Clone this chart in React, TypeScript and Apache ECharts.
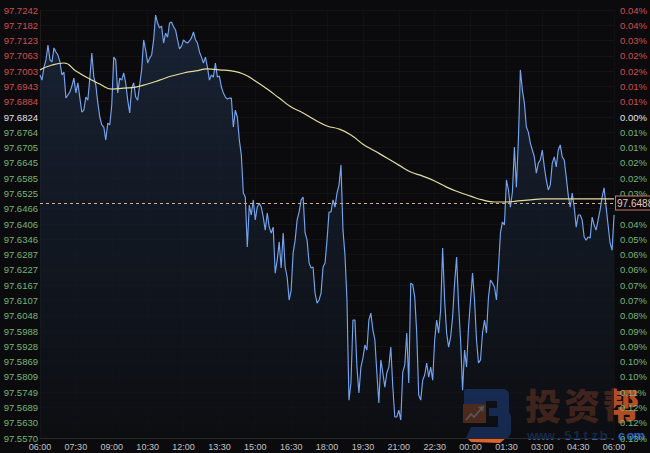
import React, { useEffect, useRef } from "react";
import * as echarts from "echarts";

// ---- data ----
const BASE_PRICE = 97.557;
const TOP_PRICE = 97.7242;
const TICK_COUNT = 28;
const TICK_STEP = (TOP_PRICE - BASE_PRICE) / TICK_COUNT;
const REF_LINE_PRICE = 97.6488;
const PRICE_STEP_MIN = 5;
const AVG_STEP_MIN = 30;

const xTickLabels = [
  "06:00", "07:30", "09:00", "10:30", "12:00", "13:30", "15:00", "16:30", "18:00",
  "19:30", "21:00", "22:30", "00:00", "01:30", "03:00", "04:30", "06:00",
];

// top to bottom
const leftTickLabels = [
  "97.7242", "97.7182", "97.7123", "97.7063", "97.7003", "97.6943", "97.6884", "97.6824",
  "97.6764", "97.6705", "97.6645", "97.6585", "97.6525", "97.6466", "97.6406", "97.6346",
  "97.6287", "97.6227", "97.6167", "97.6107", "97.6048", "97.5988", "97.5928", "97.5869",
  "97.5809", "97.5749", "97.5689", "97.5630", "97.5570",
];

const rightTickLabels = [
  "0.04%", "0.04%", "0.03%", "0.02%", "0.02%", "0.01%", "0.01%", "0.00%",
  "0.01%", "0.01%", "0.02%", "0.02%", "0.03%", "0.04%", "0.04%", "0.05%",
  "0.06%", "0.06%", "0.07%", "0.07%", "0.08%", "0.09%", "0.09%", "0.10%",
  "0.10%", "0.11%", "0.12%", "0.12%", "0.13%",
];

// price every 5 minutes from 06:00
const prices = [
  97.6988, 97.6968, 97.7019, 97.7047, 97.7105, 97.7047, 97.7039, 97.7094, 97.7078, 97.7066,
  97.7039, 97.6988, 97.7000, 97.6898, 97.6910, 97.6922, 97.6945, 97.6976, 97.6918, 97.6957,
  97.6898, 97.6843, 97.6851, 97.6902, 97.6890, 97.6976, 97.7074, 97.6980, 97.6949, 97.6879,
  97.6824, 97.6793, 97.6785, 97.6734, 97.6800, 97.6793, 97.6871, 97.7058, 97.7047, 97.6918,
  97.6976, 97.6968, 97.6996, 97.6957, 97.6890, 97.6840, 97.6937, 97.6957, 97.6902, 97.6890,
  97.6949, 97.7008, 97.7125, 97.7086, 97.7035, 97.7054, 97.7066, 97.7125, 97.7222, 97.7191,
  97.7172, 97.7179, 97.7113, 97.7152, 97.7136, 97.7191, 97.7195, 97.7176, 97.7164, 97.7125,
  97.7090, 97.7101, 97.7125, 97.7117, 97.7113, 97.7121, 97.7133, 97.7156, 97.7125, 97.7113,
  97.7078, 97.7058, 97.7035, 97.7058, 97.7019, 97.6968, 97.6988, 97.6980, 97.7035, 97.6980,
  97.6984, 97.6941, 97.6918, 97.6902, 97.6894, 97.6898, 97.6898, 97.6785, 97.6851, 97.6824,
  97.6734, 97.6675, 97.6527, 97.6511, 97.6316, 97.6480, 97.6441, 97.6500, 97.6422, 97.6472,
  97.6488, 97.6472, 97.6433, 97.6382, 97.6449, 97.6394, 97.6371, 97.6394, 97.6214, 97.6265,
  97.6336, 97.6234, 97.6371, 97.6238, 97.6199, 97.6109, 97.6148, 97.6293, 97.6343, 97.6422,
  97.6453, 97.6500, 97.6511, 97.6371, 97.6343, 97.6254, 97.6234, 97.6238, 97.6136, 97.6097,
  97.6109, 97.6136, 97.6238, 97.6254, 97.6343, 97.6453, 97.6453, 97.6500, 97.6472, 97.6527,
  97.6558, 97.6636, 97.6382, 97.6285, 97.6109, 97.5718, 97.5785, 97.6031, 97.6031, 97.5847,
  97.5746, 97.5847, 97.5882, 97.5933, 97.5914, 97.6031, 97.6058, 97.5992, 97.5953, 97.5824,
  97.5707, 97.5875, 97.5824, 97.5769, 97.5824, 97.5847, 97.5925, 97.5769, 97.5652, 97.5652,
  97.5679, 97.5640, 97.5828, 97.5855, 97.5980, 97.5785, 97.6175, 97.6168, 97.6121, 97.5980,
  97.5738, 97.5718, 97.5796, 97.5816, 97.5863, 97.5808, 97.5847, 97.5796, 97.5953, 97.6031,
  97.5980, 97.6070, 97.6312, 97.6109, 97.5980, 97.5925, 97.5964, 97.6043, 97.6175, 97.6277,
  97.6089, 97.5953, 97.5757, 97.5914, 97.5847, 97.6003, 97.6109, 97.6214, 97.6109, 97.5953,
  97.5863, 97.5875, 97.5980, 97.6031, 97.5980, 97.6121, 97.6187, 97.6175, 97.6160, 97.6109,
  97.6234, 97.6371, 97.6414, 97.6402, 97.6578, 97.6539, 97.6472, 97.6531, 97.6707, 97.6550,
  97.6734, 97.7008, 97.6929, 97.6879, 97.6785, 97.6765, 97.6722, 97.6695, 97.6668, 97.6605,
  97.6644, 97.6656, 97.6695, 97.6629, 97.6578, 97.6539, 97.6558, 97.6644, 97.6668, 97.6629,
  97.6695, 97.6715, 97.6668, 97.6656, 97.6590, 97.6519, 97.6472, 97.6527, 97.6472, 97.6394,
  97.6441, 97.6441, 97.6422, 97.6355, 97.6343, 97.6355, 97.6351, 97.6433, 97.6402, 97.6382,
  97.6422, 97.6461, 97.6511, 97.6547, 97.6472, 97.6402, 97.6332, 97.6304, 97.6441,
];

// average price every 30 minutes from 06:00
const avgPrices = [
  97.7008, 97.7027, 97.7035, 97.7004, 97.6976, 97.6953, 97.6933, 97.6937, 97.6941, 97.6953,
  97.6968, 97.6984, 97.6996, 97.7004, 97.7012, 97.7008, 97.7004, 97.6992, 97.6965, 97.6933,
  97.6898, 97.6863, 97.6840, 97.6812, 97.6789, 97.6777, 97.6754, 97.6718, 97.6691, 97.6664,
  97.6636, 97.6609, 97.6593, 97.6574, 97.6550, 97.6531, 97.6515, 97.6500, 97.6492, 97.6492,
  97.6496, 97.6500, 97.6504, 97.6504, 97.6504, 97.6504, 97.6504, 97.6504, 97.6504,
];

const toSteps = (p: number) => (p - BASE_PRICE) / TICK_STEP;

const LOGO_BLUE = "#2a63d6";
const LOGO_ORANGE = "#e0622c";
const LOGO_URL = "www.51tzb.com";

function buildOption(): any {
  const labelColorKey = (i: number) => (i < 7 ? "r" : i === 7 ? "w" : "g");
  const font = "Liberation Sans, Arial, sans-serif";
  const rich = {
    r: { color: "#cf4f4f", fontSize: 9.5, fontFamily: font },
    w: { color: "#e2e2e2", fontSize: 9.5, fontFamily: font },
    g: { color: "#76b576", fontSize: 9.5, fontFamily: font },
  };
  const refSteps = toSteps(REF_LINE_PRICE);

  const urlChars = LOGO_URL.split("").map((ch, i) => ({
    type: "text",
    x: 532 + i * 8.95,
    y: 435,
    style: {
      text: ch,
      fill: "#2f72dc",
      fontSize: 13,
      fontWeight: "bold",
      fontFamily: font,
      align: "center",
      verticalAlign: "middle",
      opacity: 0.85,
    },
  }));

  const brand = ["投", "资", "帮"].map((ch, i) => ({
    type: "text",
    x: 525 + i * 39,
    y: 386,
    style: {
      text: ch,
      fill: LOGO_ORANGE,
      fontSize: 36,
      fontWeight: 900,
      fontFamily: "Noto Sans CJK SC",
      align: "left",
      verticalAlign: "top",
      opacity: 0.8,
    },
  }));

  return {
    animation: false,
    backgroundColor: "#0b0b0d",
    grid: { left: 40, right: 33, top: 10, bottom: 15 },
    xAxis: {
      type: "value",
      min: 0,
      max: 1440,
      interval: 90,
      axisLine: { show: true, lineStyle: { color: "#2a2a2a" } },
      axisTick: { show: false },
      splitLine: { show: true, lineStyle: { color: "rgba(255,255,255,0.025)" } },
      axisLabel: {
        color: "#c4c4c4",
        fontSize: 9,
        margin: 4,
        fontFamily: font,
        formatter: (v: number) => xTickLabels[Math.round(v / 90)] ?? "",
      },
    },
    yAxis: [
      {
        type: "value",
        position: "left",
        min: 0,
        max: TICK_COUNT,
        interval: 1,
        axisLine: { show: true, lineStyle: { color: "#1c1c1c" } },
        axisTick: { show: false },
        splitLine: { show: true, lineStyle: { color: "rgba(255,255,255,0.035)" } },
        axisLabel: {
          margin: 2,
          formatter: (v: number) => {
            const i = TICK_COUNT - Math.round(v);
            return `{${labelColorKey(i)}|${leftTickLabels[i] ?? ""}}`;
          },
          rich,
        },
      },
      {
        type: "value",
        position: "right",
        min: 0,
        max: TICK_COUNT,
        interval: 1,
        axisLine: { show: false },
        axisTick: { show: false },
        splitLine: { show: false },
        axisLabel: {
          margin: 6,
          formatter: (v: number) => {
            // the reference-line price tag covers the tick label next to it
            if (Math.abs(v - refSteps) < 0.5) return "";
            const i = TICK_COUNT - Math.round(v);
            return `{${labelColorKey(i)}|${rightTickLabels[i] ?? ""}}`;
          },
          rich,
        },
      },
    ],
    series: [
      {
        type: "line",
        name: "price",
        yAxisIndex: 0,
        data: prices.map((p, i) => [i * PRICE_STEP_MIN, toSteps(p)]),
        showSymbol: false,
        symbol: "none",
        lineStyle: { color: "#74a4ee", width: 1.15 },
        areaStyle: {
          origin: "start",
          color: new echarts.graphic.LinearGradient(0, 0, 0, 1, [
            { offset: 0, color: "#1e2c43" },
            { offset: 0.55, color: "#141c29" },
            { offset: 1, color: "#0d0f14" },
          ]),
        },
        z: 2,
        markLine: {
          silent: true,
          symbol: "none",
          lineStyle: { color: "#d2b48c", type: [3, 3], width: 1 },
          label: {
            show: true,
            position: "end",
            distance: 2,
            formatter: () => REF_LINE_PRICE.toFixed(4),
            color: "#f0c6b4",
            fontSize: 10,
            fontFamily: font,
            backgroundColor: "#0b0b0d",
            borderColor: "#c97b62",
            borderWidth: 1,
            padding: [2, 1, 1, 1],
          },
          data: [{ yAxis: refSteps }],
        },
      },
      {
        type: "line",
        name: "avg",
        yAxisIndex: 0,
        data: avgPrices.map((p, i) => [i * AVG_STEP_MIN, toSteps(p)]),
        smooth: true,
        showSymbol: false,
        symbol: "none",
        lineStyle: { color: "#e4dc9c", width: 1.2 },
        z: 3,
      },
    ],
    graphic: [
      {
        type: "group",
        z: 100,
        children: [
          { type: "rect", shape: { x: 464, y: 389, width: 44, height: 12, r: [2, 6, 2, 2] }, style: { fill: LOGO_BLUE } },
          { type: "rect", shape: { x: 464, y: 398, width: 22, height: 7 }, style: { fill: LOGO_BLUE } },
          { type: "rect", shape: { x: 497, y: 389, width: 12, height: 27, r: [0, 6, 4, 0] }, style: { fill: LOGO_BLUE } },
          { type: "rect", shape: { x: 489, y: 408, width: 20, height: 8 }, style: { fill: LOGO_BLUE } },
          { type: "rect", shape: { x: 498, y: 411, width: 13, height: 27, r: [4, 6, 6, 0] }, style: { fill: LOGO_BLUE } },
          { type: "polygon", shape: { points: [[471, 427], [508, 427], [508, 438], [466, 438]] }, style: { fill: LOGO_BLUE } },
          { type: "polygon", shape: { points: [[467, 438], [506, 438], [500, 443], [471, 442]] }, style: { fill: LOGO_ORANGE } },
          { type: "rect", shape: { x: 463, y: 404, width: 23, height: 19 }, style: { fill: LOGO_ORANGE } },
          {
            type: "polyline",
            shape: { points: [[466, 420], [471, 414], [474, 417], [481, 409]] },
            style: { stroke: "#ffffff", lineWidth: 1.6, fill: "none" },
          },
          { type: "polygon", shape: { points: [[478, 407], [484, 406], [483, 412]] }, style: { fill: "#ffffff" } },
          ...brand,
          ...urlChars,
        ],
      },
    ],
  };
}

export default function App() {
  const ref = useRef<HTMLDivElement>(null);
  useEffect(() => {
    if (!ref.current) return;
    const chart = echarts.init(ref.current, undefined, { renderer: "svg" });
    chart.setOption(buildOption());
    return () => chart.dispose();
  }, []);
  return (
    <div
      ref={ref}
      style={{ position: "fixed", left: 0, top: 0, width: 650, height: 453, background: "#0b0b0d" }}
    />
  );
}
